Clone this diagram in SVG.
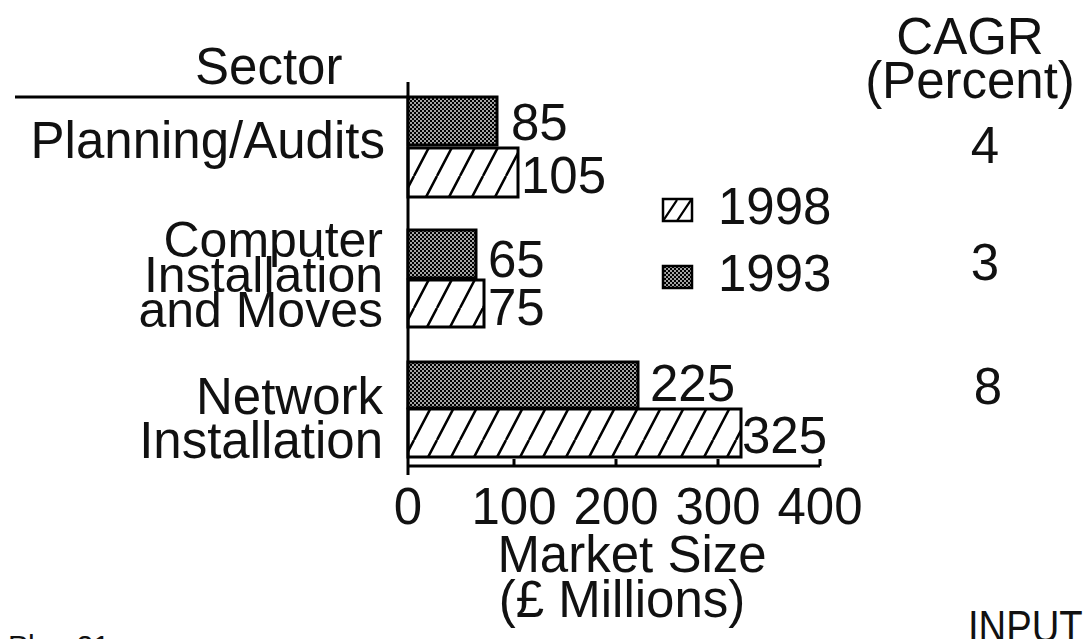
<svg xmlns="http://www.w3.org/2000/svg" width="1092" height="639" viewBox="0 0 1092 639">
<defs>
<pattern id="hatch" patternUnits="userSpaceOnUse" width="23" height="44">
<path d="M-23,44 L0,0 M0,44 L23,0 M23,44 L46,0" stroke="#000" stroke-width="2.5" fill="none"/>
</pattern>
<pattern id="hatchS" patternUnits="userSpaceOnUse" width="14" height="21" x="663" y="200">
<path d="M-14,21 L0,0 M0,21 L14,0 M14,21 L28,0" stroke="#000" stroke-width="2.2" fill="none"/>
</pattern>
<pattern id="dots" patternUnits="userSpaceOnUse" width="4" height="4">
<rect width="4" height="4" fill="#000"/>
<rect x="0.2" y="0.2" width="1.6" height="1.6" fill="#fff"/>
<rect x="2.2" y="2.2" width="1.6" height="1.6" fill="#fff"/>
</pattern>
</defs>
<style>
text{font-family:"Liberation Sans",Arial,sans-serif;font-size:51px;fill:#111}
.end{text-anchor:end}
.mid{text-anchor:middle}
.ml{font-size:50px}
.b98{fill:url(#hatch);stroke:#000;stroke-width:3}
.b93{fill:url(#dots);stroke:#000;stroke-width:3}
.ax{stroke:#000;stroke-width:3;fill:none}
</style>
<rect width="1092" height="639" fill="#fff"/>

<g id="axes">
<line class="ax" x1="15" y1="97" x2="408" y2="97"/>
<line class="ax" x1="408" y1="82" x2="408" y2="475"/>
<line class="ax" x1="408" y1="466" x2="820" y2="466"/>
<line class="ax" x1="514" y1="466" x2="514" y2="459"/>
<line class="ax" x1="616" y1="466" x2="616" y2="459"/>
<line class="ax" x1="718" y1="466" x2="718" y2="459"/>
<line class="ax" x1="820" y1="466" x2="820" y2="459"/>
<text class="mid" x="408" y="524">0</text>
<text class="mid" x="514" y="524">100</text>
<text class="mid" x="616" y="524">200</text>
<text class="mid" x="718" y="524">300</text>
<text class="mid" x="820" y="524">400</text>
<text class="mid" x="632" y="572">Market Size</text>
<text class="mid" x="622" y="617">(£ Millions)</text>
</g>

<g id="header">
<text x="195" y="84">Sector</text>
<text class="mid" x="970" y="54">CAGR</text>
<text class="mid" x="970" y="98">(Percent)</text>
</g>

<g id="planning">
<text class="end" x="385" y="158">Planning/Audits</text>
<rect class="b93" x="408" y="97" width="89" height="48"/>
<rect class="b98" x="408" y="148" width="110" height="49"/>
<text x="511" y="140">85</text>
<text x="521" y="193">105</text>
<text class="mid" x="985" y="163">4</text>
</g>

<g id="computer">
<text class="end ml" x="383" y="257">Computer</text>
<text class="end ml" x="383" y="292">Installation</text>
<text class="end ml" x="383" y="327">and Moves</text>
<rect class="b93" x="408" y="230" width="68" height="48"/>
<rect class="b98" x="408" y="280" width="76" height="47"/>
<text x="488" y="277">65</text>
<text x="488" y="325">75</text>
<text class="mid" x="985" y="280">3</text>
</g>

<g id="network">
<text class="end" x="383" y="414">Network</text>
<text class="end" x="383" y="458">Installation</text>
<rect class="b93" x="408" y="362" width="230" height="46"/>
<rect class="b98" x="408" y="409" width="333" height="48"/>
<text x="650" y="401">225</text>
<text x="742" y="453">325</text>
<text class="mid" x="988" y="404">8</text>
</g>

<g id="legend">
<rect x="663" y="199" width="29" height="22" fill="url(#hatchS)" stroke="#000" stroke-width="2.5"/>
<text x="718" y="224">1998</text>
<rect x="663" y="266" width="29" height="22" fill="url(#dots)" stroke="#000" stroke-width="2.5"/>
<text x="718" y="291">1993</text>
</g>

<g id="footer">
<text x="8" y="656" style="font-size:30px">Plan 21</text>
<text transform="translate(968,642) scale(0.85,1)" style="font-size:45px">INPUT</text>
</g>
</svg>
